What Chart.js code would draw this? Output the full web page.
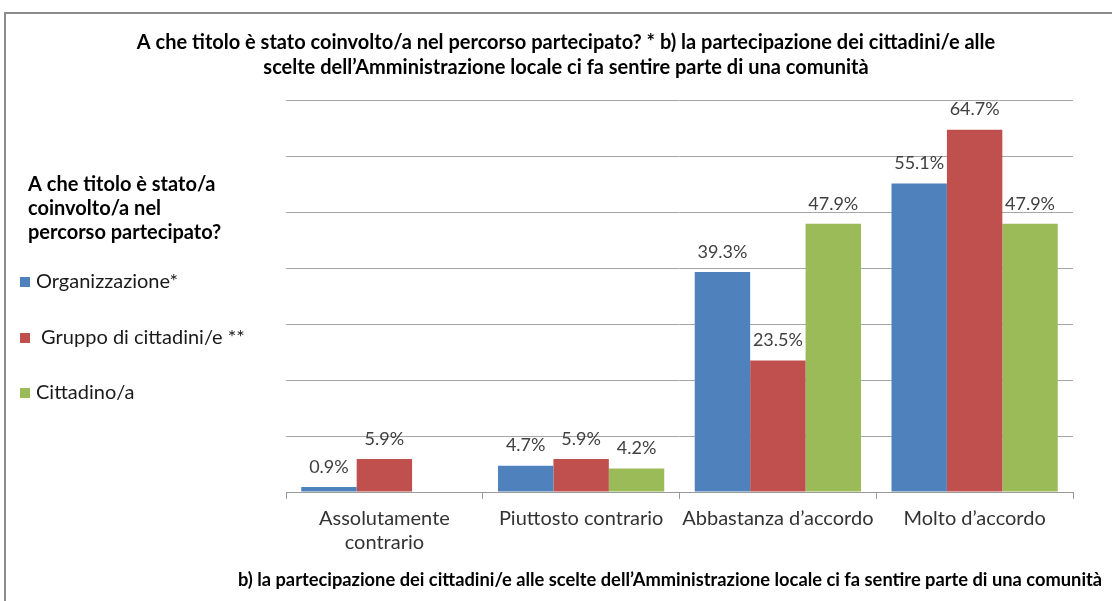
<!DOCTYPE html>
<html>
<head>
<meta charset="utf-8">
<script src="https://cdn.jsdelivr.net/npm/chart.js@4"></script>
<style>
  html, body { margin: 0; padding: 0; background: #fff; overflow: hidden; }
  #frame { position: absolute; left: 4px; top: 12px; width: 1200px; height: 700px;
           border-left: 2px solid #8c8c8c; border-top: 2px solid #8c8c8c; }
  #wrap { position: absolute; left: 0; top: 0; width: 1112px; height: 601px; }
</style>
</head>
<body>
<div id="frame"></div>
<div id="wrap"><canvas id="chart"></canvas></div>
<script>
const categories = [['Assolutamente', 'contrario'], 'Piuttosto contrario', 'Abbastanza d\u2019accordo', 'Molto d\u2019accordo'];
const organizzazione = [0.9, 4.7, 39.3, 55.1];
const gruppo = [5.9, 5.9, 23.5, 64.7];
const cittadino = [null, 4.2, 47.9, 47.9];
const seriesNames = ['Organizzazione*', ' Gruppo di cittadini/e **', 'Cittadino/a'];
const legendTitle = ['A che titolo \u00e8 stato/a', 'coinvolto/a nel', 'percorso partecipato?'];
const chartTitle = ['A che titolo \u00e8 stato coinvolto/a nel percorso partecipato? * b) la partecipazione dei cittadini/e alle',
  'scelte dell\u2019Amministrazione locale ci fa sentire parte di una comunit\u00e0'];
const axisTitle = 'b) la partecipazione dei cittadini/e alle scelte dell\u2019Amministrazione locale ci fa sentire parte di una comunit\u00e0';

Chart.defaults.font.family = 'Lato';

const valueLabels = {
  id: 'valueLabels',
  afterDatasetsDraw(chart) {
    const ctx = chart.ctx;
    ctx.save();
    ctx.font = '18px Lato';
    ctx.fillStyle = '#404040';
    ctx.textAlign = 'center';
    ctx.textBaseline = 'middle';
    chart.data.datasets.forEach((ds, i) => {
      chart.getDatasetMeta(i).data.forEach((bar, j) => {
        const v = ds.data[j];
        if (v === null || v === undefined) return;
        ctx.fillText(v.toFixed(1) + '%', bar.x, bar.y - 20);
      });
    });
    ctx.restore();
  }
};

// legend on the left + x axis title (wider than the axis, so drawn here)
const sideLegend = {
  id: 'sideLegend',
  afterDraw(chart) {
    const ctx = chart.ctx;
    ctx.save();
    ctx.textBaseline = 'middle';
    ctx.textAlign = 'left';
    ctx.fillStyle = '#000';
    ctx.font = 'bold 20px Lato';
    const titleY = [185, 209, 233];
    legendTitle.forEach((t, i) => ctx.fillText(t, 28, titleY[i]));
    ctx.font = '20px Lato';
    const itemY = [282, 338, 393];
    chart.data.datasets.forEach((ds, i) => {
      ctx.fillStyle = ds.backgroundColor;
      ctx.fillRect(20, itemY[i] - 5, 10, 10);
      ctx.fillStyle = '#1a1a1a';
      ctx.fillText(ds.label, 36, itemY[i]);
    });
    ctx.textAlign = 'center';
    ctx.fillStyle = '#000';
    ctx.font = 'bold 18.3px Lato';
    ctx.fillText(axisTitle, 670, 580);
    ctx.restore();
  }
};

new Chart(document.getElementById('chart'), {
  type: 'bar',
  data: {
    labels: categories,
    datasets: [
      { label: seriesNames[0], data: organizzazione, backgroundColor: '#4F81BD' },
      { label: seriesNames[1], data: gruppo, backgroundColor: '#C0504D' },
      { label: seriesNames[2], data: cittadino, backgroundColor: '#9BBB59' }
    ]
  },
  options: {
    responsive: true,
    maintainAspectRatio: false,
    animation: false,
    categoryPercentage: 0.845,
    barPercentage: 1.0,
    layout: { padding: { left: 59, right: 39, top: 12, bottom: 0 } },
    plugins: {
      legend: { display: false },
      tooltip: { enabled: false },
      title: {
        display: true,
        text: chartTitle,
        color: '#000',
        font: { size: 20, weight: 'bold', lineHeight: 1.25 },
        padding: { top: 18.5, bottom: 19.5 }
      }
    },
    scales: {
      x: {
        grid: { drawOnChartArea: false, tickLength: 7, color: '#9a9a9a' },
        border: { display: true, color: '#9a9a9a' },
        ticks: { color: '#333', font: { size: 20, lineHeight: 1.2 }, padding: 8, maxRotation: 0 },
        title: { display: false },
        afterFit(scale) { scale.height = 109; }
      },
      y: {
        min: 0,
        max: 70,
        ticks: { display: false, stepSize: 10 },
        grid: { color: '#a6a6a6', tickLength: 0, drawTicks: false },
        border: { display: false },
        afterFit(scale) { scale.width = 227; }
      }
    }
  },
  plugins: [valueLabels, sideLegend]
});
</script>
</body>
</html>
